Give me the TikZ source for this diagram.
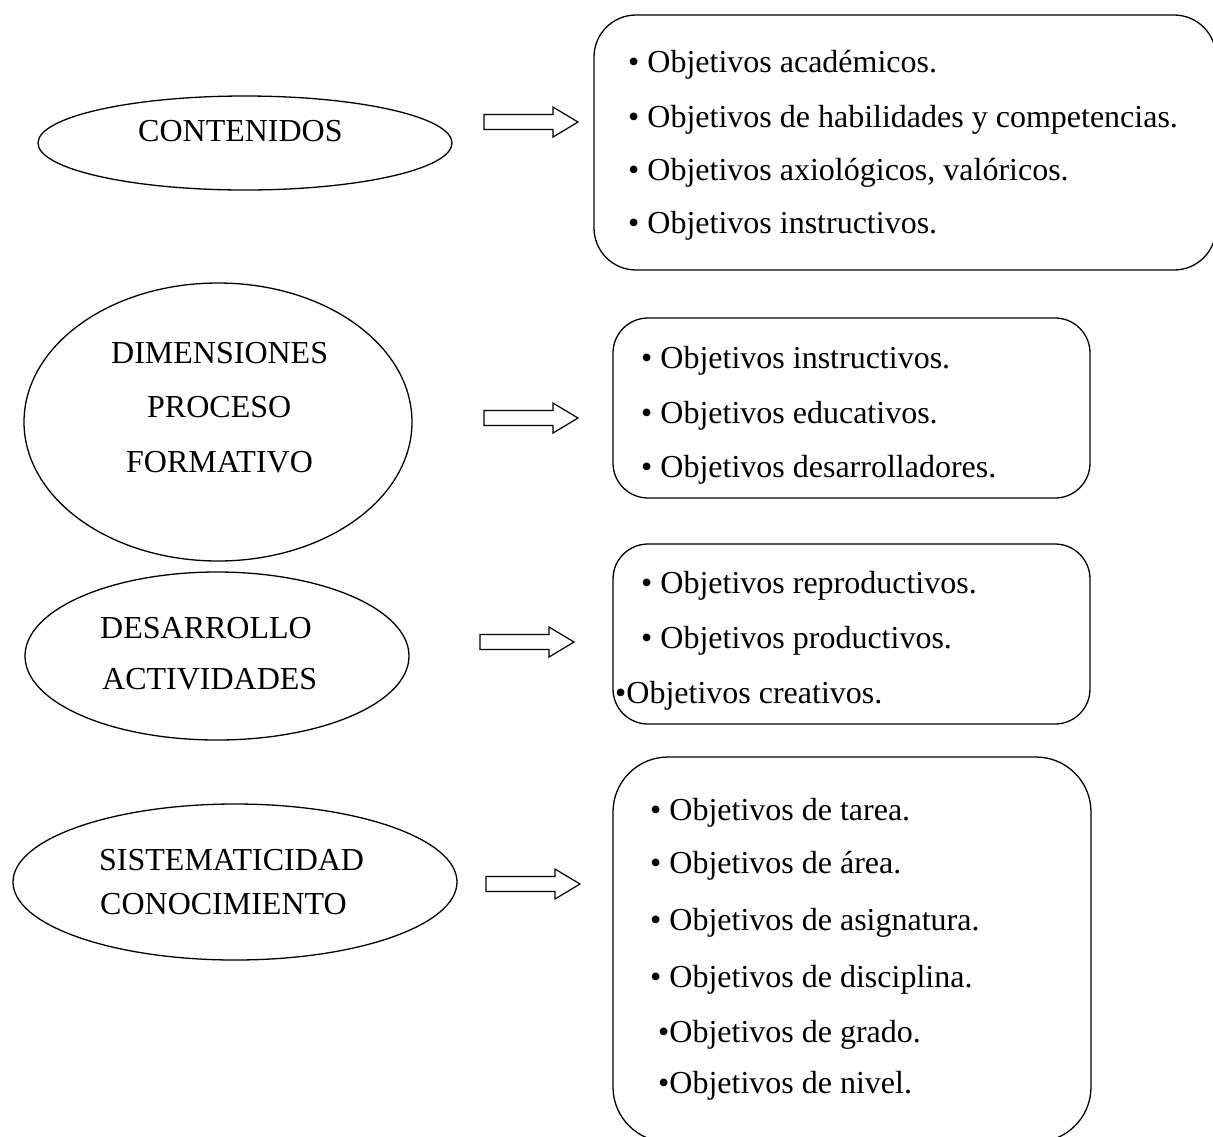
\documentclass[tikz,border=0pt]{standalone}
\usepackage{fontspec}
\setmainfont{Liberation Serif}
\usetikzlibrary{shapes}

\tikzset{
	oval/.style = {draw, ellipse, line width=1.3pt, inner sep=0},
	objbox/.style = {draw, line width=1.3pt},
	blockarrow/.style = {draw, line width=1.2pt},
	head/.style = {anchor=base west, inner sep=0, font=\fontsize{32}{38}\selectfont},
	item/.style = {anchor=base west, inner sep=0, font=\fontsize{32}{38}\selectfont}
}

\begin{document}
\begin{tikzpicture}[x=1pt, y=-1pt]

	\useasboundingbox (0,0) rectangle (1213,1136);

	% ellipses
	\node[oval, minimum width=414, minimum height=94] (contenidos) at (245,143) {};
	\node[oval, minimum width=388, minimum height=278] (dimensiones) at (218,422) {};
	\node[oval, minimum width=384, minimum height=168] (desarrollo) at (217,656) {};
	\node[oval, minimum width=444, minimum height=156] (sistematicidad) at (235,882) {};

	\node[head] (t1) at (138,141) {CONTENIDOS};
	\node[head] (t2a) at (111,363) {DIMENSIONES};
	\node[head] (t2b) at (147,417) {PROCESO};
	\node[head] (t2c) at (126,472) {FORMATIVO};
	\node[head] (t3a) at (100,638) {DESARROLLO};
	\node[head] (t3b) at (102,689) {ACTIVIDADES};
	\node[head] (t4a) at (99,870) {SISTEMATICIDAD};
	\node[head] (t4b) at (100,914) {CONOCIMIENTO};

	% arrows
	\draw[blockarrow] (484,114.5) -- ++(69,0) -- ++(0,-7.5) -- ++(25,15) -- ++(-25,15) -- ++(0,-7.5) -- ++(-69,0) -- cycle;
	\draw[blockarrow] (484,410.5) -- ++(69,0) -- ++(0,-7.5) -- ++(25,15) -- ++(-25,15) -- ++(0,-7.5) -- ++(-69,0) -- cycle;
	\draw[blockarrow] (480,634.5) -- ++(69,0) -- ++(0,-7.5) -- ++(25,15) -- ++(-25,15) -- ++(0,-7.5) -- ++(-69,0) -- cycle;
	\draw[blockarrow] (486,876.5) -- ++(69,0) -- ++(0,-7.5) -- ++(25,15) -- ++(-25,15) -- ++(0,-7.5) -- ++(-69,0) -- cycle;

	% boxes
	\draw[objbox, rounded corners=42] (594,15) rectangle (1216,270);
	\node[item] (a1) at (628,72) {\textbullet\ Objetivos académicos.};
	\node[item] (a2) at (628,127) {\textbullet\ Objetivos de habilidades y competencias.};
	\node[item] (a3) at (628,180) {\textbullet\ Objetivos axiológicos, valóricos.};
	\node[item] (a4) at (628,233) {\textbullet\ Objetivos instructivos.};

	\draw[objbox, rounded corners=35] (613,318) rectangle (1090,498);
	\node[item] (b1) at (641,368) {\textbullet\ Objetivos instructivos.};
	\node[item] (b2) at (641,423) {\textbullet\ Objetivos educativos.};
	\node[item] (b3) at (641,477) {\textbullet\ Objetivos desarrolladores.};

	\draw[objbox, rounded corners=35] (613,544) rectangle (1090,724);
	\node[item] (c1) at (641,593) {\textbullet\ Objetivos reproductivos.};
	\node[item] (c2) at (641,648) {\textbullet\ Objetivos productivos.};
	\node[item] (c3) at (615,703) {\textbullet Objetivos creativos.};

	\draw[objbox, rounded corners=55] (613,757) rectangle (1091,1142);
	\node[item] (d1) at (650,820) {\textbullet\ Objetivos de tarea.};
	\node[item] (d2) at (650,873) {\textbullet\ Objetivos de área.};
	\node[item] (d3) at (650,930) {\textbullet\ Objetivos de asignatura.};
	\node[item] (d4) at (650,987) {\textbullet\ Objetivos de disciplina.};
	\node[item] (d5) at (658,1042) {\textbullet Objetivos de grado.};
	\node[item] (d6) at (658,1093) {\textbullet Objetivos de nivel.};

\end{tikzpicture}
\end{document}
